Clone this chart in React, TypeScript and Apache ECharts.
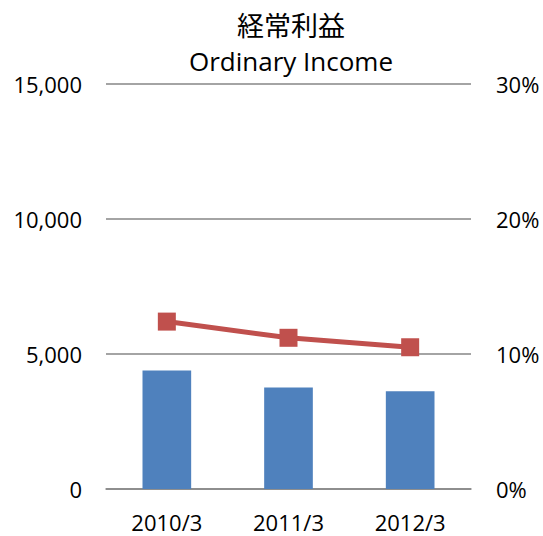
import React, { useEffect, useRef } from "react";
import * as echarts from "echarts";

const categories = ["2010/3", "2011/3", "2012/3"];
const ordinaryIncome = [4390, 3760, 3620];
const ratio = [12.4, 11.2, 10.5];
const leftTicks = { min: 0, max: 15000, interval: 5000 };
const rightTicks = { min: 0, max: 30, interval: 10 };
const titleJa = "経常利益";
const titleEn = "Ordinary Income";

const FONT = "'Open Sans', sans-serif";

export default function App() {
  const ref = useRef<HTMLDivElement>(null);
  useEffect(() => {
    if (!ref.current) return;
    const chart = echarts.init(ref.current, undefined, { renderer: "svg" });
    chart.setOption({
      animation: false,
      backgroundColor: "#ffffff",
      graphic: [
        {
          type: "text",
          x: 291,
          y: 24,
          style: {
            text: titleJa,
            fill: "#000",
            font: "normal 27px 'Noto Sans CJK JP', sans-serif",
            textAlign: "center",
            textVerticalAlign: "middle",
          },
        },
        {
          type: "text",
          x: 291,
          y: 61,
          style: {
            text: titleEn,
            fill: "#000",
            font: "normal 26px 'Open Sans', sans-serif",
            textAlign: "center",
            textVerticalAlign: "middle",
          },
        },
      ],
      grid: { left: 106, right: 72, top: 84, bottom: 47, containLabel: false },
      xAxis: {
        type: "category",
        data: categories,
        axisLine: { show: true, lineStyle: { color: "#868686", width: 1.5 } },
        axisTick: { show: false },
        axisLabel: { margin: 22, fontFamily: FONT, fontSize: 22, color: "#000" },
      },
      yAxis: [
        {
          type: "value",
          min: leftTicks.min,
          max: leftTicks.max,
          interval: leftTicks.interval,
          axisLine: { show: false },
          axisTick: { show: false },
          splitLine: { show: true, lineStyle: { color: "#868686", width: 1.5 } },
          axisLabel: {
            margin: 24,
            fontFamily: FONT,
            fontSize: 22,
            color: "#000",
            formatter: (v: number) => v.toLocaleString("en-US"),
          },
        },
        {
          type: "value",
          min: rightTicks.min,
          max: rightTicks.max,
          interval: rightTicks.interval,
          axisLine: { show: false },
          axisTick: { show: false },
          splitLine: { show: false },
          axisLabel: { margin: 25, fontFamily: FONT, fontSize: 22, color: "#000", formatter: "{value}%" },
        },
      ],
      series: [
        {
          type: "bar",
          data: ordinaryIncome,
          barWidth: "40%",
          itemStyle: { color: "#4F81BD" },
          yAxisIndex: 0,
        },
        {
          type: "line",
          data: ratio,
          yAxisIndex: 1,
          symbol: "rect",
          symbolSize: 18,
          lineStyle: { color: "#C0504D", width: 5 },
          itemStyle: { color: "#C0504D" },
        },
      ],
    });
    return () => chart.dispose();
  }, []);
  return <div ref={ref} style={{ position: "absolute", left: 0, top: 0, width: 543, height: 536 }} />;
}
